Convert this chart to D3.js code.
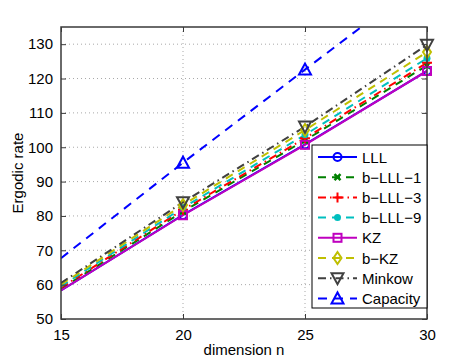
<!DOCTYPE html>
<html lang="en">
<head>
<meta charset="utf-8">
<title>Ergodic rate vs dimension</title>
<script src="https://cdn.jsdelivr.net/npm/d3@7"></script>
<style>
  body { margin: 0; background: #fff; }
  text { font-family: "Liberation Sans", Arial, sans-serif; fill: #000; }
</style>
</head>
<body>
<div id="chart"></div>
<script>
// data
var dims = [15, 20, 25, 30];
var names = ["LLL", "b\u2212LLL\u22121", "b\u2212LLL\u22123", "b\u2212LLL\u22129", "KZ", "b\u2212KZ", "Minkow", "Capacity"];
var lll     = [58.3, 80.3, 100.8, 122.2];
var blll1   = [58.8, 81.3, 102.0, 123.8];
var blll3   = [59.1, 81.8, 102.6, 124.6];
var blll9   = [59.5, 82.4, 103.6, 125.9];
var kz      = [58.3, 80.2, 100.7, 122.2];
var bkz     = [60.0, 83.2, 105.0, 127.7];
var minkow  = [60.5, 84.0, 106.0, 129.8];
var capacity = [67.7, 95.5, 122.6, 149.5];
var xTicks = [15, 20, 25, 30];
var yTicks = [50, 60, 70, 80, 90, 100, 110, 120, 130];

var series = [
  {name: names[0], values: lll,      color: "#0000ff", dash: null,          marker: "circle"},
  {name: names[1], values: blll1,    color: "#008000", dash: "8,6",         marker: "x"},
  {name: names[2], values: blll3,    color: "#ff0000", dash: "8,4,1.5,4",   marker: "plus"},
  {name: names[3], values: blll9,    color: "#00bfbf", dash: "8,6",         marker: "dot"},
  {name: names[4], values: kz,       color: "#bf00bf", dash: null,          marker: "square"},
  {name: names[5], values: bkz,      color: "#bfbf00", dash: "8,6",         marker: "diamond"},
  {name: names[6], values: minkow,   color: "#404040", dash: "8,4,1.5,4",   marker: "tridown"},
  {name: names[7], values: capacity, color: "#0000ff", dash: "9,7",         marker: "triup"}
];

var w = 471, h = 360;
var pL = 61, pR = 427, pT = 27, pB = 319;

var svg = d3.select("#chart").append("svg")
  .attr("width", w).attr("height", h);

var x = d3.scaleLinear().domain([15, 30]).range([pL, pR]);
var y = d3.scaleLinear().domain([50, 135]).range([pB, pT]);

// grid
svg.append("g").selectAll("line").data(yTicks.slice(1))
  .enter().append("line")
  .attr("x1", pL).attr("x2", pR)
  .attr("y1", function(d){ return y(d); }).attr("y2", function(d){ return y(d); })
  .attr("stroke", "#a8a8a8").attr("stroke-width", 1).attr("stroke-dasharray", "1,3");
svg.append("g").selectAll("line").data(xTicks.slice(1, -1))
  .enter().append("line")
  .attr("x1", function(d){ return x(d); }).attr("x2", function(d){ return x(d); })
  .attr("y1", pT).attr("y2", pB)
  .attr("stroke", "#a8a8a8").attr("stroke-width", 1).attr("stroke-dasharray", "1,3");

// clip for lines
svg.append("clipPath").attr("id", "clip")
  .append("rect").attr("x", pL).attr("y", pT)
  .attr("width", pR - pL).attr("height", pB - pT);

function drawMarker(g, type, cx, cy, color) {
  var s = 5;
  if (type == "circle") {
    g.append("circle").attr("cx", cx).attr("cy", cy).attr("r", 4)
      .attr("fill", "none").attr("stroke", color).attr("stroke-width", 2);
  } else if (type == "square") {
    g.append("rect").attr("x", cx - 4).attr("y", cy - 4).attr("width", 8).attr("height", 8)
      .attr("fill", "none").attr("stroke", color).attr("stroke-width", 2);
  } else if (type == "x") {
    g.append("path").attr("d", "M" + (cx-3) + "," + (cy-3) + "L" + (cx+3) + "," + (cy+3) +
      "M" + (cx-3) + "," + (cy+3) + "L" + (cx+3) + "," + (cy-3))
      .attr("stroke", color).attr("stroke-width", 2.5);
  } else if (type == "plus") {
    g.append("path").attr("d", "M" + (cx-s) + "," + cy + "L" + (cx+s) + "," + cy +
      "M" + cx + "," + (cy-s) + "L" + cx + "," + (cy+s))
      .attr("stroke", color).attr("stroke-width", 2);
  } else if (type == "dot") {
    g.append("circle").attr("cx", cx).attr("cy", cy).attr("r", 3.5).attr("fill", color);
  } else if (type == "diamond") {
    g.append("path").attr("d", "M" + cx + "," + (cy-6) + "L" + (cx+4) + "," + cy +
      "L" + cx + "," + (cy+6) + "L" + (cx-4) + "," + cy + "Z")
      .attr("fill", "none").attr("stroke", color).attr("stroke-width", 2);
  } else if (type == "tridown") {
    g.append("path").attr("d", "M" + (cx-6) + "," + (cy-5) + "L" + (cx+6) + "," + (cy-5) +
      "L" + cx + "," + (cy+6) + "Z")
      .attr("fill", "none").attr("stroke", color).attr("stroke-width", 2);
  } else if (type == "triup") {
    g.append("path").attr("d", "M" + (cx-6) + "," + (cy+5) + "L" + (cx+6) + "," + (cy+5) +
      "L" + cx + "," + (cy-6) + "Z")
      .attr("fill", "none").attr("stroke", color).attr("stroke-width", 2);
  }
}

var line = d3.line()
  .x(function(d, i){ return x(dims[i]); })
  .y(function(d){ return y(d); });

var plot = svg.append("g").attr("clip-path", "url(#clip)");
series.forEach(function(s) {
  plot.append("path").datum(s.values)
    .attr("d", line)
    .attr("fill", "none")
    .attr("stroke", s.color)
    .attr("stroke-width", 2)
    .attr("stroke-dasharray", s.dash);
});
// markers only shown from n=20 on, none at the left edge
var marks = svg.append("g");
series.forEach(function(s) {
  s.values.forEach(function(v, i) {
    if (dims[i] > 15 && v <= 135) drawMarker(marks, s.marker, x(dims[i]), y(v), s.color);
  });
});

// axes box + ticks
svg.append("rect").attr("x", pL).attr("y", pT)
  .attr("width", pR - pL).attr("height", pB - pT)
  .attr("fill", "none").attr("stroke", "#3a3a3a").attr("stroke-width", 1.5);

var axL = d3.axisLeft(y).tickValues(yTicks).tickSize(-5).tickPadding(8);
var axR = d3.axisRight(y).tickValues(yTicks).tickSize(-5).tickFormat("");
var axB = d3.axisBottom(x).tickValues(xTicks).tickSize(-5).tickPadding(10);
var axT = d3.axisTop(x).tickValues(xTicks).tickSize(-5).tickFormat("");

[[axL, "translate(" + pL + ",0)"], [axR, "translate(" + pR + ",0)"],
 [axB, "translate(0," + pB + ")"], [axT, "translate(0," + pT + ")"]].forEach(function(a) {
  var g = svg.append("g").attr("transform", a[1]).call(a[0]);
  g.select(".domain").remove();
  g.selectAll(".tick line").attr("stroke", "#3a3a3a");
  g.selectAll("text").attr("font-size", 15).attr("font-family", "Liberation Sans, Arial, sans-serif").attr("fill", "#000");
});

svg.append("text").attr("x", 244).attr("y", 355)
  .attr("text-anchor", "middle").attr("font-size", 15).text("dimension n");
svg.append("text").attr("transform", "translate(23,173) rotate(-90)")
  .attr("text-anchor", "middle").attr("font-size", 15).text("Ergodic rate");

// legend
var lg = svg.append("g");
lg.append("rect").attr("x", 312).attr("y", 145).attr("width", 115).attr("height", 163)
  .attr("fill", "#fff").attr("stroke", "#000").attr("stroke-width", 1);
series.forEach(function(s, i) {
  var ly = 157 + i * 20.2;
  lg.append("line").attr("x1", 318).attr("x2", 357).attr("y1", ly).attr("y2", ly)
    .attr("stroke", s.color).attr("stroke-width", 2).attr("stroke-dasharray", s.dash);
  drawMarker(lg, s.marker, 337.5, ly, s.color);
  lg.append("text").attr("x", 362).attr("y", ly + 5.5).attr("font-size", 15).text(s.name);
});
</script>
</body>
</html>
